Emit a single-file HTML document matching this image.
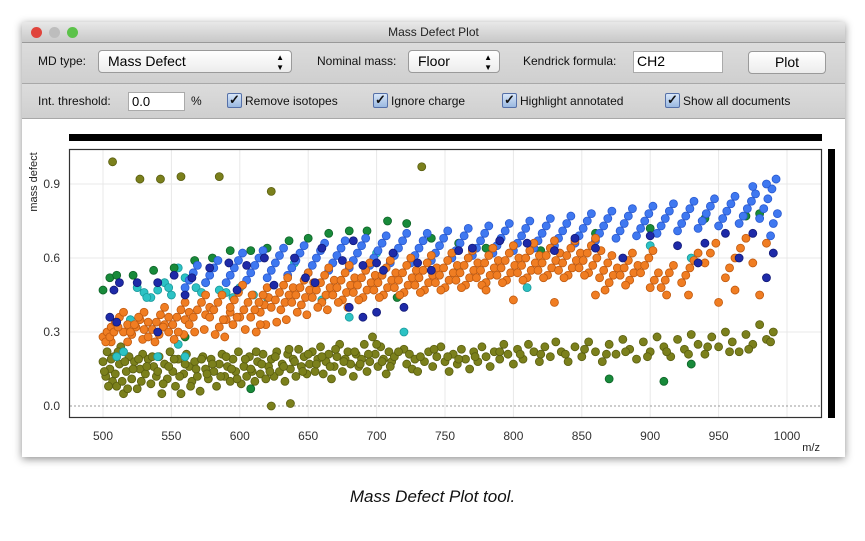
<!DOCTYPE html>
<html><head><meta charset="utf-8"><style>
body{margin:0;width:865px;height:541px;background:#fff;font-family:"Liberation Sans",sans-serif;position:relative;overflow:hidden}
.abs{position:absolute}
.win{left:22px;top:22px;width:823px;height:435px;background:#fff;box-shadow:0 2px 8px rgba(0,0,0,.45)}
.title{left:0;top:0;width:823px;height:20px;background:linear-gradient(#e8e8e8,#c8c8c8);border-bottom:1px solid #999;font-size:12px;text-align:center;line-height:20px;color:#222}
.tb{left:0;width:823px;background:linear-gradient(#dcdcdc,#cfcfcf);border-bottom:1px solid #a8a8a8}
.lbl{font-size:12px;color:#111}
.sel{background:linear-gradient(#fff,#ececec);border:1px solid #9a9a9a;border-radius:4px;font-size:14px;padding-left:9px;box-sizing:border-box;line-height:20px}
.inp{background:#fff;border:1px solid #aaa;box-sizing:border-box;font-size:13px;padding-left:3px;line-height:18px}
.cb{width:13px;height:13px;border:1px solid #5570a8;border-radius:2px;background:linear-gradient(#d8e6f8,#9ab8e0);font-size:13px;line-height:12px;text-align:center;color:#111;font-weight:bold}
</style></head><body>
<div class="abs win">
 <div class="abs title">Mass Defect Plot</div>
 <div class="abs" style="left:9px;top:5px;width:11px;height:11px;border-radius:50%;background:#e0443c"></div>
 <div class="abs" style="left:27px;top:5px;width:11px;height:11px;border-radius:50%;background:#bdbdbd"></div>
 <div class="abs" style="left:45px;top:5px;width:11px;height:11px;border-radius:50%;background:#5cc24a"></div>
 <div class="abs tb" style="top:21px;height:40px"></div>
 <div class="abs tb" style="top:62px;height:34px"></div>
</div>
<div class="abs lbl" style="left:38px;top:54px">MD type:</div>
<div class="abs sel" style="left:98px;top:50px;width:194px;height:23px">Mass Defect<span style="position:absolute;right:7px;font-size:8px;line-height:10px;top:2px">▲<br>▼</span></div>
<div class="abs lbl" style="left:317px;top:54px">Nominal mass:</div>
<div class="abs sel" style="left:408px;top:50px;width:92px;height:23px">Floor<span style="position:absolute;right:7px;font-size:8px;line-height:10px;top:2px">▲<br>▼</span></div>
<div class="abs lbl" style="left:523px;top:54px">Kendrick formula:</div>
<div class="abs inp" style="left:633px;top:51px;width:90px;height:22px;font-size:14px">CH2</div>
<div class="abs sel" style="left:748px;top:51px;width:78px;height:23px;text-align:center;padding:0">Plot</div>
<div class="abs lbl" style="left:38px;top:94px">Int. threshold:</div>
<div class="abs inp" style="left:128px;top:92px;width:57px;height:19px">0.0</div>
<div class="abs lbl" style="left:191px;top:94px">%</div>
<div class="abs cb" style="left:227px;top:93px">✓</div>
<div class="abs lbl" style="left:245px;top:94px">Remove isotopes</div>
<div class="abs cb" style="left:373px;top:93px">✓</div>
<div class="abs lbl" style="left:391px;top:94px">Ignore charge</div>
<div class="abs cb" style="left:502px;top:93px">✓</div>
<div class="abs lbl" style="left:520px;top:94px">Highlight annotated</div>
<div class="abs cb" style="left:665px;top:93px">✓</div>
<div class="abs lbl" style="left:683px;top:94px">Show all documents</div>

<svg class="abs" style="left:0;top:0" width="865" height="541" id="plot">
 <rect x="69" y="134" width="753" height="7" fill="#000"/>
 <rect x="828" y="149" width="7" height="269" fill="#000"/>
 <g id="grid"></g><g id="pts"></g>
 <rect x="69.5" y="149.5" width="752" height="268" fill="none" stroke="#333" stroke-width="1.2"/>
 <g id="ticks"></g>
 <text x="37" y="182" transform="rotate(-90 37 182)" font-size="11" text-anchor="middle" fill="#222" font-family="Liberation Sans">mass defect</text>
 <text x="820" y="451" font-size="11" text-anchor="end" fill="#222" font-family="Liberation Sans">m/z</text>
</svg>
<div class="abs" style="left:0;width:865px;top:487px;text-align:center;font-style:italic;font-size:17px;color:#111">Mass Defect Plot tool.</div>
<script>
const xTicks=[500,550,600,650,700,750,800,850,900,950,1000];
const yTicks=[0.0,0.3,0.6,0.9];
const yTickLabels=["0.0","0.3","0.6","0.9"];
const olivePoints=[[507,.99],[527,.92],[542,.92],[557,.93],[585,.93],[623,.87],[733,.97],[623,.00],[637,.01],[500,.18],[502,.12],[503,.22],[505,.15],[507,.10],[508,.20],[510,.08],[512,.17],[513,.24],[515,.05],[517,.14],[519,.20],[521,.11],[523,.18],[525,.07],[527,.15],[529,.21],[531,.13],[533,.19],[535,.09],[537,.16],[539,.12],[541,.20],[543,.05],[545,.17],[547,.11],[549,.22],[551,.14],[553,.08],[555,.19],[557,.05],[559,.13],[561,.21],[563,.16],[565,.10],[567,.18],[569,.12],[571,.06],[573,.20],[575,.15],[577,.11],[579,.19],[581,.14],[583,.08],[585,.17],[587,.21],[589,.12],[591,.16],[593,.10],[595,.19],[597,.14],[599,.22],[601,.09],[603,.16],[605,.12],[607,.20],[609,.14],[611,.10],[613,.18],[615,.13],[617,.21],[619,.11],[621,.16],[623,.19],[625,.12],[627,.22],[629,.14],[631,.17],[633,.10],[635,.21],[637,.15],[639,.19],[641,.12],[643,.23],[645,.16],[647,.20],[649,.13],[651,.17],[653,.22],[655,.14],[657,.19],[659,.24],[661,.13],[663,.18],[665,.21],[667,.11],[669,.16],[671,.20],[673,.25],[675,.14],[677,.19],[679,.22],[681,.17],[683,.12],[685,.21],[687,.16],[689,.19],[691,.25],[693,.14],[695,.18],[697,.28],[699,.21],[701,.16],[703,.24],[705,.19],[707,.13],[709,.22],[711,.18],[713,.20],[720,.23],[722,.17],[724,.21],[726,.15],[728,.19],[730,.14],[735,.18],[738,.22],[741,.16],[744,.20],[747,.24],[750,.18],[753,.14],[756,.21],[759,.17],[762,.23],[765,.19],[768,.15],[771,.22],[774,.18],[777,.24],[780,.20],[783,.16],[786,.22],[790,.19],[793,.25],[796,.21],[800,.17],[803,.23],[807,.19],[811,.25],[815,.22],[819,.18],[823,.24],[827,.20],[831,.26],[835,.22],[840,.18],[845,.24],[850,.20],[855,.26],[860,.22],[865,.18],[870,.25],[875,.21],[880,.27],[885,.23],[890,.19],[895,.26],[900,.22],[905,.28],[910,.24],[915,.20],[920,.27],[925,.23],[930,.29],[935,.25],[940,.21],[945,.28],[950,.24],[955,.30],[960,.26],[965,.22],[970,.29],[975,.25],[980,.33],[985,.27],[990,.30]];
const oliveExtraPoints=[[501,.14],[504,.08],[506,.19],[509,.13],[511,.22],[514,.10],[516,.18],[518,.07],[522,.15],[526,.19],[528,.10],[532,.16],[536,.20],[540,.14],[544,.09],[548,.16],[552,.19],[556,.12],[560,.17],[564,.08],[568,.15],[572,.19],[576,.13],[580,.17],[586,.12],[590,.20],[594,.15],[598,.11],[604,.19],[608,.15],[612,.22],[616,.17],[622,.14],[626,.20],[632,.16],[636,.23],[640,.18],[646,.14],[650,.21],[656,.17],[660,.20],[666,.16],[670,.23],[676,.18],[684,.22],[688,.17],[694,.21],[700,.25],[704,.18],[710,.16],[716,.22],[732,.20],[742,.23],[752,.20],[760,.19],[772,.20],[790,.22],[805,.21],[820,.21],[838,.21],[852,.23],[868,.21],[882,.22],[898,.20],[912,.22],[928,.21],[942,.24],[958,.22],[972,.23],[988,.26]];
const cyanPoints=[[510,.20],[515,.22],[520,.35],[525,.48],[530,.46],[535,.44],[540,.47],[545,.50],[550,.45],[555,.56],[560,.52],[568,.48],[575,.50],[585,.47],[590,.46],[600,.48],[610,.45],[620,.44],[640,.58],[660,.43],[680,.36],[700,.62],[720,.30],[740,.55],[760,.56],[780,.50],[810,.48],[900,.65],[930,.60],[555,.25],[560,.20],[540,.20],[532,.44],[548,.48],[572,.46],[595,.44]];
const greenPoints=[[500,.47],[505,.52],[510,.53],[522,.53],[537,.55],[552,.56],[567,.59],[580,.60],[593,.63],[608,.63],[620,.64],[636,.67],[650,.68],[665,.70],[680,.71],[693,.71],[708,.75],[722,.74],[740,.68],[760,.66],[780,.64],[820,.63],[860,.70],[900,.72],[940,.76],[970,.77],[980,.78],[608,.07],[715,.44],[560,.28],[870,.11],[910,.10],[930,.17]];
const bluePoints=[[560,.48],[563,.51],[566,.54],[569,.57],[575,.50],[578,.53],[581,.56],[584,.59],[590,.50],[593,.53],[596,.56],[599,.59],[602,.62],[605,.51],[608,.54],[611,.57],[614,.60],[617,.63],[620,.52],[623,.55],[626,.58],[629,.61],[632,.64],[635,.53],[638,.56],[641,.59],[644,.62],[647,.65],[650,.54],[653,.57],[656,.60],[659,.63],[662,.66],[665,.55],[668,.58],[671,.61],[674,.64],[677,.67],[680,.56],[683,.59],[686,.62],[689,.65],[692,.68],[695,.57],[698,.60],[701,.63],[704,.66],[707,.69],[710,.58],[713,.61],[716,.64],[719,.67],[722,.70],[725,.58],[728,.61],[731,.64],[734,.67],[737,.70],[740,.59],[743,.62],[746,.65],[749,.68],[752,.71],[755,.60],[758,.63],[761,.66],[764,.69],[767,.72],[770,.61],[773,.64],[776,.67],[779,.70],[782,.73],[785,.62],[788,.65],[791,.68],[794,.71],[797,.74],[800,.63],[803,.66],[806,.69],[809,.72],[812,.75],[815,.64],[818,.67],[821,.70],[824,.73],[827,.76],[830,.65],[833,.68],[836,.71],[839,.74],[842,.77],[845,.66],[848,.69],[851,.72],[854,.75],[857,.78],[860,.67],[863,.70],[866,.73],[869,.76],[872,.79],[875,.68],[878,.71],[881,.74],[884,.77],[887,.80],[890,.69],[893,.72],[896,.75],[899,.78],[902,.81],[905,.70],[908,.73],[911,.76],[914,.79],[917,.82],[920,.71],[923,.74],[926,.77],[929,.80],[932,.83],[935,.72],[938,.75],[941,.78],[944,.81],[947,.84],[950,.73],[953,.76],[956,.79],[959,.82],[962,.85],[965,.74],[968,.77],[971,.80],[974,.83],[977,.86],[980,.76],[983,.80],[986,.84],[989,.88],[992,.92],[975,.89],[985,.90],[990,.74],[993,.78],[988,.69]];
const orangePoints=[[500,.28],[503,.30],[506,.32],[509,.34],[512,.36],[515,.38],[502,.26],[505,.28],[508,.30],[511,.32],[518,.26],[521,.29],[524,.32],[527,.35],[530,.38],[520,.30],[523,.33],[526,.36],[533,.28],[536,.31],[539,.34],[542,.37],[545,.40],[538,.26],[541,.29],[544,.32],[548,.30],[551,.33],[554,.36],[557,.39],[560,.42],[552,.27],[555,.30],[563,.33],[566,.36],[569,.39],[572,.42],[575,.45],[567,.30],[578,.36],[581,.39],[584,.42],[587,.45],[582,.29],[585,.32],[588,.35],[593,.40],[596,.43],[599,.46],[602,.49],[595,.33],[598,.36],[608,.36],[611,.39],[614,.42],[617,.45],[620,.48],[612,.30],[615,.33],[623,.40],[626,.43],[629,.46],[632,.49],[635,.52],[627,.34],[638,.42],[641,.45],[644,.48],[647,.51],[650,.54],[642,.38],[653,.44],[656,.47],[659,.50],[662,.53],[665,.56],[657,.40],[668,.45],[671,.48],[674,.51],[677,.54],[680,.57],[672,.42],[683,.46],[686,.49],[689,.52],[692,.55],[695,.58],[687,.43],[698,.47],[701,.50],[704,.53],[707,.56],[710,.59],[702,.44],[713,.48],[716,.51],[719,.54],[722,.57],[725,.60],[717,.45],[728,.49],[731,.52],[734,.55],[737,.58],[740,.61],[732,.46],[743,.50],[746,.53],[749,.56],[752,.59],[755,.62],[747,.47],[758,.51],[761,.54],[764,.57],[767,.60],[770,.63],[762,.48],[773,.52],[776,.55],[779,.58],[782,.61],[785,.64],[777,.49],[788,.53],[791,.56],[794,.59],[797,.62],[800,.65],[792,.50],[803,.54],[806,.57],[809,.60],[812,.63],[815,.66],[807,.51],[818,.55],[821,.58],[824,.61],[827,.64],[830,.67],[822,.52],[833,.55],[836,.58],[839,.61],[842,.64],[845,.67],[837,.52],[848,.56],[851,.59],[854,.62],[857,.65],[860,.68],[852,.53],[863,.52],[866,.55],[869,.58],[872,.61],[867,.47],[878,.53],[881,.56],[884,.59],[887,.62],[882,.49],[893,.54],[896,.57],[899,.60],[902,.63],[908,.48],[911,.51],[914,.54],[917,.57],[912,.45],[923,.50],[926,.53],[929,.56],[932,.59],[935,.62],[940,.58],[944,.62],[948,.66],[955,.52],[958,.56],[962,.60],[966,.64],[970,.68],[975,.58],[985,.66],[962,.47],[980,.45],[950,.42],[928,.45],[860,.45],[830,.42],[800,.43],[780,.47]];
const orangeExtraPoints=[[600,.36],[603,.39],[606,.42],[609,.45],[615,.38],[618,.41],[621,.44],[630,.39],[633,.42],[636,.45],[639,.48],[645,.41],[648,.44],[651,.47],[654,.50],[660,.42],[663,.45],[666,.48],[669,.51],[675,.43],[678,.46],[681,.49],[684,.52],[690,.44],[693,.47],[696,.50],[699,.53],[705,.45],[708,.48],[711,.51],[714,.54],[720,.46],[723,.49],[726,.52],[729,.55],[735,.47],[738,.50],[741,.53],[744,.56],[750,.48],[753,.51],[756,.54],[759,.57],[765,.49],[768,.52],[771,.55],[774,.58],[780,.50],[783,.53],[786,.56],[789,.59],[795,.51],[798,.54],[801,.57],[804,.60],[810,.52],[813,.55],[816,.58],[819,.61],[825,.53],[828,.56],[831,.59],[834,.62],[840,.53],[843,.56],[846,.59],[849,.62],[855,.54],[858,.57],[861,.60],[864,.63],[870,.50],[873,.53],[876,.56],[885,.51],[888,.54],[891,.57],[900,.48],[903,.51],[906,.54],[515,.30],[518,.33],[530,.31],[533,.34],[545,.33],[548,.36],[560,.35],[563,.38],[575,.37],[578,.40],[590,.35],[593,.38],[506,.26],[529,.27],[559,.29],[574,.31],[589,.28],[604,.31],[619,.33],[634,.35],[649,.37],[664,.39],[679,.40]];
const navyPoints=[[505,.36],[508,.47],[512,.50],[510,.34],[525,.50],[540,.50],[552,.53],[560,.45],[565,.52],[578,.56],[592,.58],[598,.47],[605,.57],[618,.60],[625,.49],[640,.60],[648,.52],[655,.50],[660,.64],[675,.59],[683,.67],[690,.57],[700,.58],[705,.55],[712,.62],[720,.40],[730,.58],[740,.55],[760,.63],[770,.64],[790,.67],[810,.66],[830,.63],[845,.68],[860,.64],[880,.60],[900,.69],[920,.65],[940,.66],[955,.70],[975,.70],[990,.62],[540,.30],[680,.40],[700,.38],[690,.36],[935,.58],[965,.60],[985,.52]];
const X0=103,XS=684/500,Y0=406,YS=74/0.3;
const xs=v=>X0+(v-500)*XS, ys=v=>Y0-v*YS;
const NS="http://www.w3.org/2000/svg";
const grid=document.getElementById('grid'),ticks=document.getElementById('ticks'),pts=document.getElementById('pts');
function mk(tag,attrs,parent){const e=document.createElementNS(NS,tag);for(const k in attrs)e.setAttribute(k,attrs[k]);parent.appendChild(e);return e;}
xTicks.forEach(t=>{
 const g=mk('line',{x1:xs(t),x2:xs(t),y1:150,y2:417,stroke:'#e8e8e8'},grid);
 
 
 const tx=mk('text',{x:xs(t),y:440,'font-size':12,'text-anchor':'middle',fill:'#333','font-family':'Liberation Sans'},ticks);
 tx.textContent=t;
 
 
});
yTicks.forEach((t,i)=>{
 const g=mk('line',{x1:70,x2:821,y1:ys(t),y2:ys(t),stroke:t===0?'#999':'#e8e8e8','stroke-dasharray':t===0?'2,2':'none'},grid);
 
 
 const tx=mk('text',{x:60,y:ys(t)+4,'font-size':12,'text-anchor':'end',fill:'#333','font-family':'Liberation Sans'},ticks);
 tx.textContent=yTickLabels[i];
 
 
});
function series(arr,fill,stroke,name){
 arr.forEach(p=>{
  const c=mk('circle',{cx:xs(p[0]),cy:ys(p[1]),r:4,fill:fill,stroke:stroke,'stroke-width':0.8},pts);
  
  
 });
}
series(olivePoints,'#7b801c','#5a5e10','olive-point');
series(oliveExtraPoints,'#7b801c','#5a5e10','olive-point');
series(cyanPoints,'#2cc2c4','#1a9a9c','cyan-point');
series(greenPoints,'#188a3a','#0e6428','green-point');
series(bluePoints,'#3f78f0','#2a5ad0','blue-point');
series(orangeExtraPoints,'#f07d22','#c05a10','orange-point');
series(orangePoints,'#f07d22','#c05a10','orange-point');
series(navyPoints,'#1e2aa8','#121a78','navy-point');
</script>
</body></html>
